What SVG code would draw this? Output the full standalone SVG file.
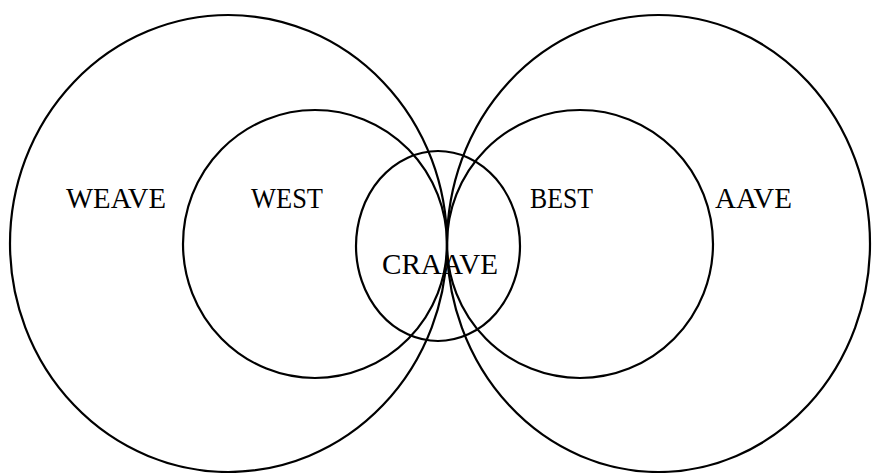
<svg xmlns="http://www.w3.org/2000/svg" width="872" height="473" viewBox="0 0 872 473">
<style>
.c{fill:none;stroke:#000;stroke-width:2.2}
.t{font-family:"Liberation Serif","Times New Roman",serif;font-size:30px;fill:#000}
</style>
<rect width="872" height="473" fill="#fff"/>
<g id="weave"><ellipse class="c" cx="228.5" cy="243.5" rx="218.5" ry="228.5"/><text class="t" x="66" y="208" textLength="100" lengthAdjust="spacingAndGlyphs">WEAVE</text></g>
<g id="aave"><ellipse class="c" cx="658.5" cy="243.5" rx="211.5" ry="228.5"/><text class="t" x="715" y="208" textLength="77" lengthAdjust="spacingAndGlyphs">AAVE</text></g>
<g id="west"><ellipse class="c" cx="315" cy="244" rx="132" ry="134"/><text class="t" x="251" y="208" textLength="72" lengthAdjust="spacingAndGlyphs">WEST</text></g>
<g id="best"><ellipse class="c" cx="580" cy="244" rx="133" ry="134"/><text class="t" x="530" y="208" textLength="63" lengthAdjust="spacingAndGlyphs">BEST</text></g>
<g id="craave"><ellipse class="c" cx="438" cy="246" rx="82" ry="95"/><text class="t" x="382" y="274" textLength="116" lengthAdjust="spacingAndGlyphs">CRAAVE</text></g>
<g id="connectors"/>
</svg>
